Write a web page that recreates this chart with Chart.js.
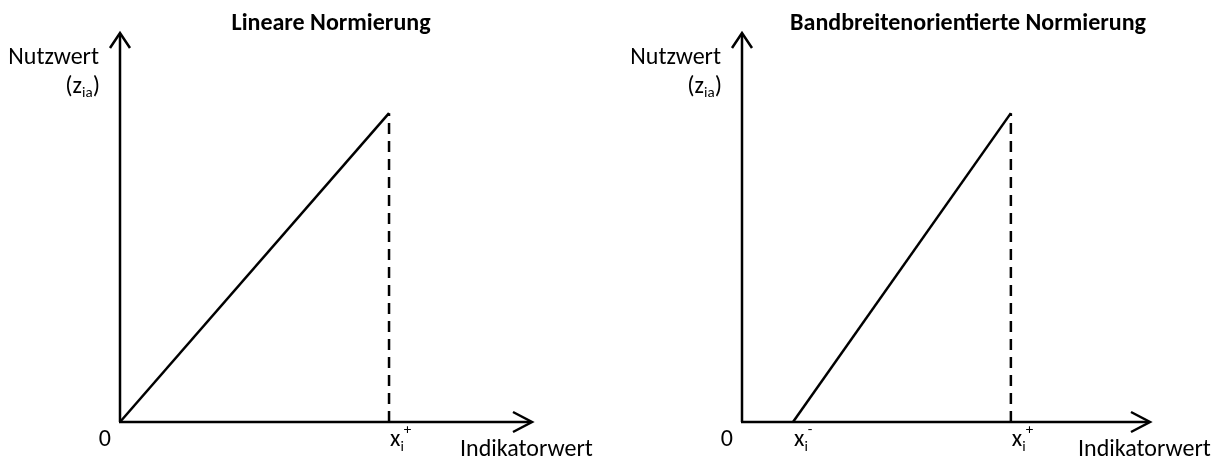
<!DOCTYPE html>
<html>
<head>
<meta charset="utf-8">
<script src="https://cdn.jsdelivr.net/npm/chart.js@4/dist/chart.umd.min.js"></script>
<style>
    body { margin: 0; background: #fff; }
    #wrap { position: relative; width: 1222px; height: 458px; }
    canvas { position: absolute; top: 0; }
</style>
</head>
<body>
<div id="wrap">
    <canvas id="chart-linear" width="611" height="458" style="left:0;"></canvas>
    <canvas id="chart-band" width="611" height="458" style="left:611px;"></canvas>
</div>
<script>
// ── Data (axis units 0..100) ──
const linearX = [0, 65.3];
const linearY = [0, 79.4];
const bandX = [12.5, 65.9];
const bandY = [0, 79.4];

const linearTicks = [0, 65.3];
const linearTickLabels = ['0', 'x_i^+'];
const bandTicks = [0, 12.5, 65.9];
const bandTickLabels = ['0', 'x_i^-', 'x_i^+'];

const FONT = 'Carlito, Calibri, Lato, sans-serif';
const FS = 24;      // main text size
const FS_SMALL = 15; // sub/superscripts
const LW = 2.5;

// ── Helpers ──
// label like 'x_i^+' -> base, subscript, superscript
function parseLabel(s) {
    const m = s.match(/^([^_^]*)(?:_([^^]*))?(?:\^(.*))?$/);
    return [
        { t: m[1], size: FS, dy: 0 },
        { t: m[2] || '', size: FS_SMALL, dy: 5 },
        { t: m[3] || '', size: FS_SMALL, dy: -12 },
    ].filter(p => p.t);
}

function drawRich(ctx, parts, x, y, align) {
    let w = 0;
    parts.forEach(p => {
        ctx.font = `${p.bold ? 'bold ' : ''}${p.size}px ${FONT}`;
        w += ctx.measureText(p.t).width;
    });
    let cx = align === 'right' ? x - w : align === 'center' ? x - w / 2 : x;
    ctx.textAlign = 'left';
    ctx.textBaseline = 'alphabetic';
    parts.forEach(p => {
        ctx.font = `${p.bold ? 'bold ' : ''}${p.size}px ${FONT}`;
        ctx.fillText(p.t, cx, y + (p.dy || 0));
        cx += ctx.measureText(p.t).width;
    });
}

function seg(ctx, pts) {
    ctx.beginPath();
    ctx.moveTo(pts[0][0], pts[0][1]);
    for (let i = 1; i < pts.length; i++) ctx.lineTo(pts[i][0], pts[i][1]);
    ctx.stroke();
}

// ── Plugin: arrow axes, labels, title ──
const diagramPlugin = {
    id: 'diagram',
    beforeDatasetsDraw(chart, args, opts) {
        const { ctx, chartArea: a } = chart;
        ctx.save();
        ctx.strokeStyle = '#000';
        ctx.lineWidth = LW;
        ctx.lineJoin = 'miter';
        ctx.lineCap = 'butt';
        // y axis + arrow
        seg(ctx, [[a.left, a.bottom], [a.left, a.top + 1]]);
        seg(ctx, [[a.left - 10, a.top + 15], [a.left, a.top], [a.left + 10, a.top + 15]]);
        // x axis + arrow
        seg(ctx, [[a.left - 1, a.bottom], [a.right - 1, a.bottom]]);
        seg(ctx, [[a.right - 19, a.bottom - 10], [a.right, a.bottom], [a.right - 19, a.bottom + 10]]);
        ctx.restore();
    },
    afterDraw(chart, args, opts) {
        const { ctx, chartArea: a, scales } = chart;
        ctx.save();
        ctx.fillStyle = '#000';
        // title
        drawRich(ctx, [{ t: opts.title, size: FS, bold: true }], opts.titleX, 30, 'center');
        // y axis title
        drawRich(ctx, [{ t: 'Nutzwert', size: FS }], a.left - 21, 64, 'right');
        drawRich(ctx, [{ t: '(z', size: FS }, { t: 'ia', size: FS_SMALL, dy: 4 }, { t: ')', size: FS }],
            a.left - 20, 93, 'right');
        // x ticks
        opts.ticks.forEach((v, i) => {
            const px = scales.x.getPixelForValue(v);
            const parts = parseLabel(opts.tickLabels[i]);
            if (v === 0) drawRich(ctx, parts, px - 9, 446, 'right');
            else drawRich(ctx, parts, px + 1, 446, 'left');
        });
        // x axis title
        drawRich(ctx, [{ t: 'Indikatorwert', size: FS }], a.right - 72, 456, 'left');
        ctx.restore();
    },
};

function buildChart(id, xs, ys, ticks, tickLabels, title, titleX, padding) {
    const ctx = document.getElementById(id).getContext('2d');
    const peak = xs.length - 1;
    return new Chart(ctx, {
        type: 'line',
        data: {
            datasets: [
                {
                    data: xs.map((x, i) => ({ x, y: ys[i] })),
                    borderColor: '#000',
                    borderWidth: LW,
                    pointRadius: 0,
                    clip: false,
                },
                {
                    data: [{ x: xs[peak], y: 0 }, { x: xs[peak], y: ys[peak] }],
                    borderColor: '#000',
                    borderWidth: LW,
                    borderDash: [11, 7],
                    pointRadius: 0,
                    clip: false,
                },
            ],
        },
        options: {
            responsive: false,
            animation: false,
            layout: { padding },
            scales: {
                x: { type: 'linear', min: 0, max: 100, display: false },
                y: { type: 'linear', min: 0, max: 100, display: false },
            },
            plugins: {
                legend: { display: false },
                tooltip: { enabled: false },
                diagram: { title, titleX, ticks, tickLabels },
            },
        },
        plugins: [diagramPlugin],
    });
}

buildChart('chart-linear', linearX, linearY, linearTicks, linearTickLabels,
    'Lineare Normierung', 331, { left: 120, right: 611 - 532, top: 33, bottom: 458 - 422 });
buildChart('chart-band', bandX, bandY, bandTicks, bandTickLabels,
    'Bandbreitenorientierte Normierung', 357, { left: 131, right: 611 - 539, top: 33, bottom: 458 - 422 });
</script>
</body>
</html>
